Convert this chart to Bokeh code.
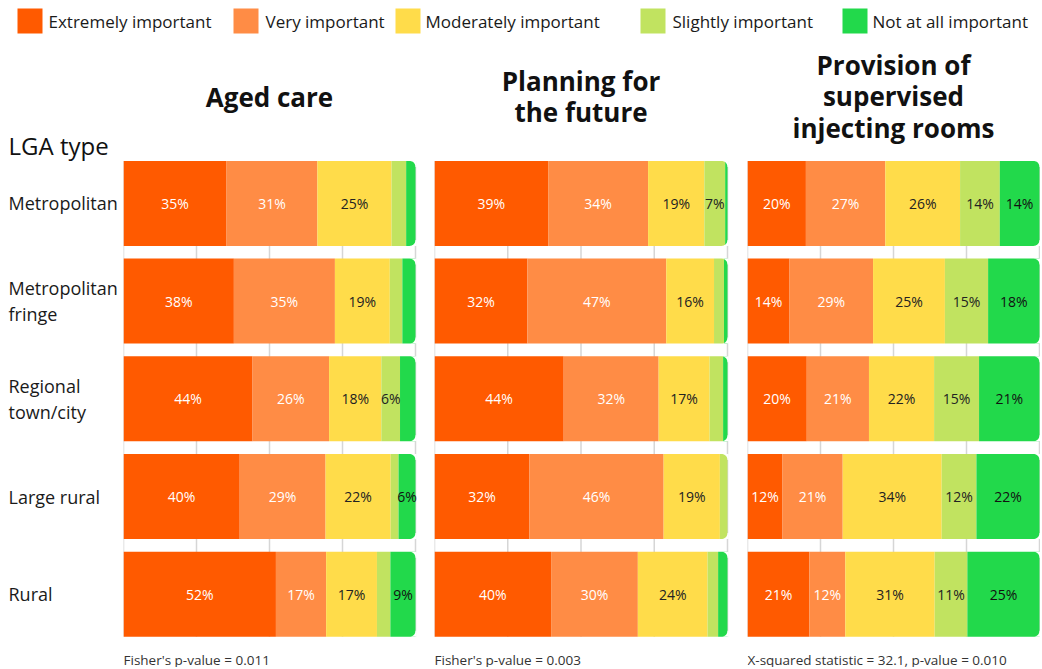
import numpy as np
from bokeh.plotting import figure
from bokeh.layouts import column, row
from bokeh.models import Range1d, ColumnDataSource, Label
from bokeh.core.properties import value
from bokeh.embed import file_html
from bokeh.resources import INLINE

FONT = "Open Sans"

# ---------------- data ----------------
levels = ["Extremely important", "Very important", "Moderately important",
          "Slightly important", "Not at all important"]
level_colors = ["#FF5A00", "#FF8C45", "#FFDC4A", "#C1E360", "#22D94B"]
label_colors = ["#ffffff", "#ffffff", "#222222", "#222222", "#111111"]

lga_types = ["Metropolitan", "Metropolitan\nfringe", "Regional\ntown/city",
             "Large rural", "Rural"]

panel_titles = ["Aged care", "Planning for\nthe future",
                "Provision of\nsupervised\ninjecting rooms"]
footnotes = ["Fisher's p-value = 0.011", "Fisher's p-value = 0.003",
             "X-squared statistic = 32.1, p-value = 0.010"]

# Aged care (% per LGA type)
aged_extreme = [35.3, 37.8, 44.2, 39.8, 52.2]
aged_very = [31.1, 34.6, 26.2, 29.4, 17.2]
aged_moderate = [25.4, 18.8, 17.9, 22.3, 17.4]
aged_slight = [5.0, 4.3, 6.4, 2.7, 4.6]
aged_not = [3.2, 4.5, 5.3, 5.8, 8.6]

# Planning for the future
plan_extreme = [38.8, 31.7, 44.1, 32.4, 39.8]
plan_very = [34.1, 47.4, 32.4, 45.8, 29.6]
plan_moderate = [19.2, 16.3, 17.4, 19.2, 23.8]
plan_slight = [7.1, 3.4, 4.6, 2.6, 3.6]
plan_not = [0.8, 1.2, 1.5, 0.0, 3.2]

# Provision of supervised injecting rooms
inj_extreme = [20.0, 14.4, 20.3, 12.0, 21.2]
inj_very = [27.2, 28.6, 21.3, 20.6, 12.3]
inj_moderate = [25.6, 24.6, 22.3, 33.9, 30.6]
inj_slight = [13.6, 14.8, 15.4, 11.9, 11.2]
inj_not = [13.6, 17.6, 20.7, 21.6, 24.7]

panel_values = [
    [aged_extreme, aged_very, aged_moderate, aged_slight, aged_not],
    [plan_extreme, plan_very, plan_moderate, plan_slight, plan_not],
    [inj_extreme, inj_very, inj_moderate, inj_slight, inj_not],
]

grid_ticks = [0, 25, 50, 75, 100]
LABEL_MIN = 5.5

# ---------------- layout constants (pixels) ----------------
N = len(lga_types)
BAR_H = 0.87
PX_PER_Y = 97.7          # pixels per category step
ROW_TOP = 44             # page y where the chart row starts
ROW_H = 623              # height of the chart row
Y0 = 202.9               # page y of the first category centre
Y_TOP = (ROW_TOP - Y0) / PX_PER_Y
Y_BOT = (ROW_TOP + ROW_H - Y0) / PX_PER_Y
CORNER_R = 6.0

LABEL_W = 123
# (figure width, left gap, bar frame width for 0..100)
PANELS = [(297, 0, 292.0), (312, 14, 293.0), (308, 15, 292.0)]


def base_fig(width, left=0, xr=(0, 100)):
    p = figure(width=width, height=ROW_H, x_range=Range1d(*xr),
               y_range=Range1d(Y_BOT, Y_TOP),
               output_backend="svg", toolbar_location=None,
               x_axis_location=None, y_axis_location=None,
               min_border_left=left, min_border_right=0,
               min_border_top=0, min_border_bottom=0)
    p.outline_line_color = None
    p.background_fill_color = "white"
    p.border_fill_color = "white"
    p.xgrid.visible = False
    p.ygrid.visible = False
    return p


def corner_masks(ys, fw, r=CORNER_R, n=12):
    rx = r * 100.0 / fw
    ry = r / PX_PER_Y
    ex = 1.2 * 100.0 / fw
    t = np.linspace(0, np.pi / 2, n)
    xs_all, ys_all = [], []
    for yc in ys:
        top = yc - BAR_H / 2
        bot = yc + BAR_H / 2
        cx = 100 - rx
        cy = top + ry
        xs_all.append(list(cx + rx * np.cos(t)) + [cx, 100 + ex, 100 + ex])
        ys_all.append(list(cy - ry * np.sin(t)) + [top, top, cy])
        cy = bot - ry
        xs_all.append(list(cx + rx * np.cos(t)) + [cx, 100 + ex, 100 + ex])
        ys_all.append(list(cy + ry * np.sin(t)) + [bot, bot, cy])
    return xs_all, ys_all


def screen_y(page_y):
    # Label screen units are measured up from the frame bottom
    return ROW_TOP + ROW_H - page_y


# ---------------- legend ----------------
LEG_W = LABEL_W + sum(w for w, _, _ in PANELS)
LEG_H = ROW_TOP
leg = figure(width=LEG_W, height=LEG_H, x_range=Range1d(0, LEG_W),
             y_range=Range1d(LEG_H, 0), output_backend="svg",
             toolbar_location=None, x_axis_location=None, y_axis_location=None,
             min_border_left=0, min_border_right=0, min_border_top=0,
             min_border_bottom=0)
leg.outline_line_color = None
leg.xgrid.visible = False
leg.ygrid.visible = False
swatch_left = [17, 233, 395, 640, 842]
legtext_x = [48, 265, 425, 672, 872]
leg.rect(x=[s + 12.5 for s in swatch_left], y=[20.5] * 5, width=25, height=25,
         fill_color=level_colors, line_color=None)
leg.text(x=legtext_x, y=[21] * 5, text=levels, text_align="left",
         text_baseline="middle", text_font=value(FONT),
         text_font_size="17px", text_color="#1a1a1a")

# ---------------- category label column ----------------
lab = base_fig(LABEL_W, xr=(0, LABEL_W))
ypos = list(range(N))
lab.text(x=[8] * N, y=ypos, text=lga_types, text_align="left",
         text_baseline="middle", text_font=value(FONT), text_font_size="18px",
         text_color="#1a1a1a", text_line_height=1.1)
lab.add_layout(Label(x=8, y=screen_y(145), x_units="data", y_units="screen",
                     text="LGA type", text_align="left", text_baseline="middle",
                     text_font=FONT, text_font_size="24px", text_color="#111111"))

# ---------------- panels ----------------
figs = [lab]
for k, (w, gap, fw) in enumerate(PANELS):
    frame_w = w - gap
    p = base_fig(w, left=gap, xr=(0, 100.0 * frame_w / fw))
    # vertical grid lines (visible in the gaps between bars)
    p.segment(x0=grid_ticks, x1=grid_ticks, y0=[-BAR_H / 2] * len(grid_ticks),
              y1=[N - 1 + BAR_H / 2] * len(grid_ticks),
              line_color="#d6d6d6", line_width=1.5)
    vals = panel_values[k]
    cum = np.zeros(N)
    for j, series in enumerate(vals):
        arr = np.array(series, dtype=float)
        left = cum.copy()
        right = cum + arr
        src = ColumnDataSource(dict(y=ypos, left=left, right=right))
        p.hbar(y="y", left="left", right="right", height=BAR_H, source=src,
               fill_color=level_colors[j], line_color=None)
        cum = right
    mx, my = corner_masks(ypos, fw)
    p.patches(xs=mx, ys=my, fill_color="white", line_color=None)
    cum = np.zeros(N)
    for j, series in enumerate(vals):
        arr = np.array(series, dtype=float)
        left = cum.copy()
        right = cum + arr
        src = ColumnDataSource(dict(
            y=ypos, mid=(left + right) / 2,
            label=[f"{round(v)}%" if v >= LABEL_MIN else "" for v in arr]))
        p.text(x="mid", y="y", text="label", source=src, text_align="center",
               text_baseline="middle", text_font=value(FONT),
               text_font_size="14px", text_color=label_colors[j])
        cum = right

    p.add_layout(Label(x=50, y=screen_y(96), x_units="data", y_units="screen",
                       text=panel_titles[k], text_align="center",
                       text_baseline="middle", text_font=FONT,
                       text_font_size="26px", text_font_style="bold",
                       text_color="#111111", text_line_height=0.87))
    p.add_layout(Label(x=0, y=screen_y(659), x_units="data", y_units="screen",
                       text=footnotes[k], text_align="left",
                       text_baseline="alphabetic", text_font=FONT,
                       text_font_size="13.5px", text_color="#333333"))
    figs.append(p)

layout = column(leg, row(*figs))
open("out.html", "w").write(file_html(layout, INLINE, title="LGA type importance"))
